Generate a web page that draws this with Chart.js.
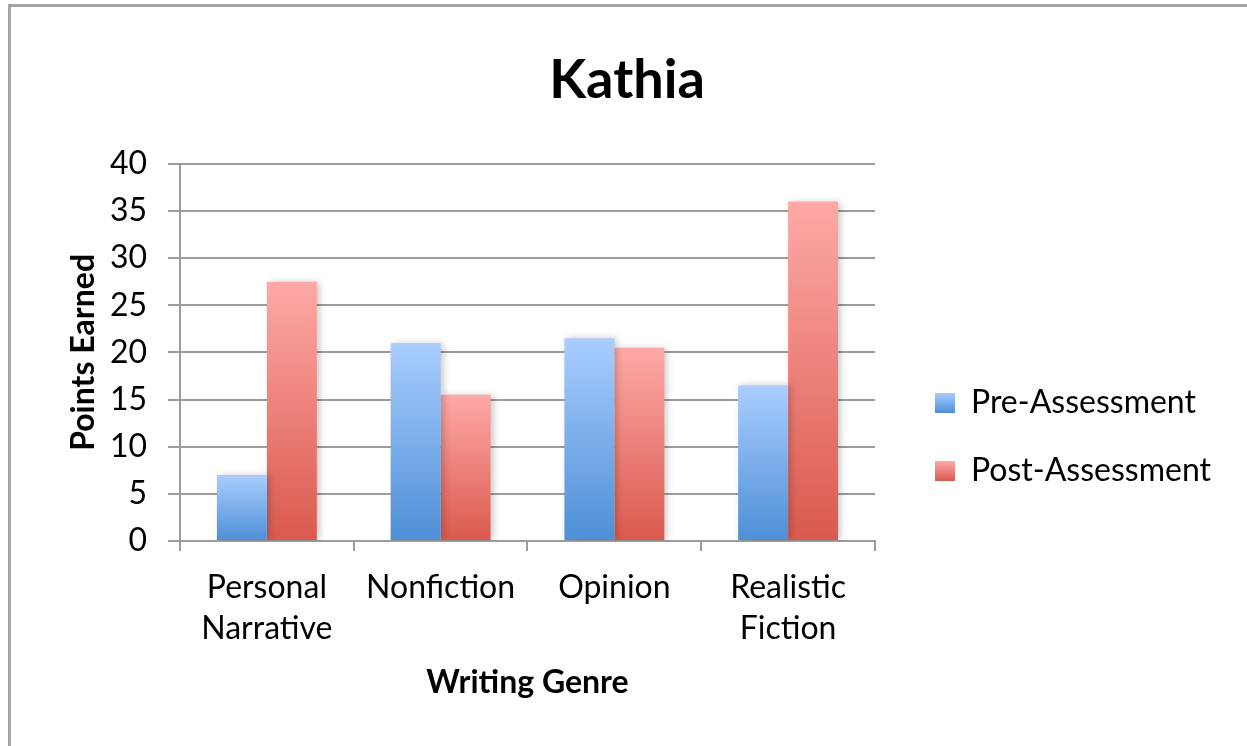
<!DOCTYPE html>
<html>
<head>
<meta charset="utf-8">
<title>Kathia</title>
<script src="https://cdn.jsdelivr.net/npm/chart.js@4.4.1/dist/chart.umd.min.js"></script>
<style>
    html, body { margin: 0; padding: 0; background: #ffffff; overflow: hidden; }
    #wrap { position: relative; width: 1247px; height: 746px; }
    #frame {
        position: absolute; left: 8px; top: 4px; right: -10px; bottom: -10px;
        border-left: 3px solid #a5a5a5; border-top: 3px solid #a5a5a5;
    }
    #kathiaChart { position: absolute; left: 0; top: 0; }
</style>
</head>
<body>
<div id="wrap">
    <div id="frame"></div>
    <canvas id="kathiaChart" width="1247" height="746"></canvas>
</div>
<script>
// Chart data
const genres = [['Personal', 'Narrative'], 'Nonfiction', 'Opinion', ['Realistic', 'Fiction']];
const preAssessment = [7, 21, 21.5, 16.5];
const postAssessment = [27.5, 15.5, 20.5, 36];
const yMin = 0;
const yMax = 40;
const yStep = 5;

const FONT = 'Lato, "Open Sans", sans-serif';
const GRID = '#9c9c9c';

// Colours: light at the top of each bar, darker at its base
const PRE_COLORS = ['#aacdfe', '#4d8fd6'];
const POST_COLORS = ['#fea9a6', '#da594e'];

// Vertical gradient per bar, from its top down to the zero line
function barGradient(colors) {
    return function (context) {
        const chart = context.chart;
        if (!chart.chartArea || context.type !== 'data') {
            return colors[1];
        }
        const y = chart.scales.y;
        const top = y.getPixelForValue(context.raw);
        const base = y.getPixelForValue(0);
        const g = chart.ctx.createLinearGradient(0, top, 0, base);
        g.addColorStop(0, colors[0]);
        g.addColorStop(1, colors[1]);
        return g;
    };
}

// Soft shadow to the right of the bars
const barShadow = {
    id: 'barShadow',
    beforeDatasetsDraw(chart) {
        const ctx = chart.ctx;
        ctx.save();
        ctx.shadowColor = 'rgba(0, 0, 0, 0.22)';
        ctx.shadowBlur = 7;
        ctx.shadowOffsetX = 3;
        ctx.shadowOffsetY = 0;
    },
    afterDatasetsDraw(chart) {
        chart.ctx.restore();
    }
};

// Give the legend boxes the same gradients as the bars
const legendGradient = {
    id: 'legendGradient',
    afterUpdate(chart) {
        const legend = chart.legend;
        if (!legend || !legend.legendItems) return;
        const labels = legend.options.labels;
        const boxH = labels.boxHeight;
        const itemH = Math.max(labels.font.size, boxH);
        const sets = [PRE_COLORS, POST_COLORS];
        legend.legendItems.forEach((item, i) => {
            const hb = legend.legendHitBoxes[i];
            if (!hb) return;
            const top = hb.top + (itemH - boxH) / 2;
            const g = chart.ctx.createLinearGradient(0, top, 0, top + boxH);
            g.addColorStop(0, sets[i][0]);
            g.addColorStop(1, sets[i][1]);
            item.fillStyle = g;
        });
    }
};

const ctx = document.getElementById('kathiaChart').getContext('2d');

new Chart(ctx, {
    type: 'bar',
    data: {
        labels: genres,
        datasets: [
            {
                label: 'Pre-Assessment',
                data: preAssessment,
                backgroundColor: barGradient(PRE_COLORS),
                borderWidth: 0
            },
            {
                label: 'Post-Assessment',
                data: postAssessment,
                backgroundColor: barGradient(POST_COLORS),
                borderWidth: 0
            }
        ]
    },
    options: {
        responsive: false,
        animation: false,
        devicePixelRatio: 1,
        categoryPercentage: 0.575,
        barPercentage: 1,
        layout: { padding: { left: 33, right: 26, top: 0, bottom: 0 } },
        plugins: {
            title: {
                display: true,
                text: 'Kathia',
                color: '#000000',
                font: { family: FONT, size: 54, weight: 'bold' },
                padding: { top: 48, bottom: 51 }
            },
            legend: {
                display: true,
                position: 'right',
                align: 'center',
                maxWidth: 420,
                title: {
                    display: true,
                    text: ' ',
                    font: { size: 10, lineHeight: 1.2 },
                    padding: { top: 0, bottom: 116 }
                },
                labels: {
                    color: '#000000',
                    font: { family: FONT, size: 32 },
                    boxWidth: 20,
                    boxHeight: 20,
                    padding: 36
                }
            },
            tooltip: { enabled: false }
        },
        scales: {
            x: {
                grid: {
                    display: true,
                    drawOnChartArea: false,
                    drawTicks: true,
                    tickLength: 10,
                    color: GRID,
                    lineWidth: 2
                },
                border: { display: true, color: GRID, width: 2 },
                ticks: {
                    color: '#000000',
                    font: { family: FONT, size: 32, lineHeight: 1.28 },
                    padding: 16,
                    maxRotation: 0,
                    autoSkip: false
                },
                title: {
                    display: true,
                    text: 'Writing Genre',
                    color: '#000000',
                    font: { family: FONT, size: 32, weight: 'bold' },
                    padding: { top: 0, bottom: 44 }
                },
                afterFit(scale) { scale.height = 205; }
            },
            y: {
                min: yMin,
                max: yMax,
                grid: {
                    color: GRID,
                    lineWidth: 2,
                    drawTicks: true,
                    tickLength: 12
                },
                border: { display: true, color: GRID, width: 2 },
                ticks: {
                    stepSize: yStep,
                    color: '#000000',
                    font: { family: FONT, size: 32 },
                    padding: 21
                },
                title: {
                    display: true,
                    text: 'Points Earned',
                    color: '#000000',
                    font: { family: FONT, size: 32, weight: 'bold' },
                    padding: { top: 31, bottom: 0 }
                },
                afterFit(scale) { scale.width = 147; }
            },
            gap: {
                type: 'linear',
                position: 'right',
                display: true,
                grid: { display: false },
                border: { display: false },
                ticks: { display: false },
                afterFit(scale) { scale.width = 24; }
            }
        }
    },
    plugins: [barShadow, legendGradient]
});
</script>
</body>
</html>
